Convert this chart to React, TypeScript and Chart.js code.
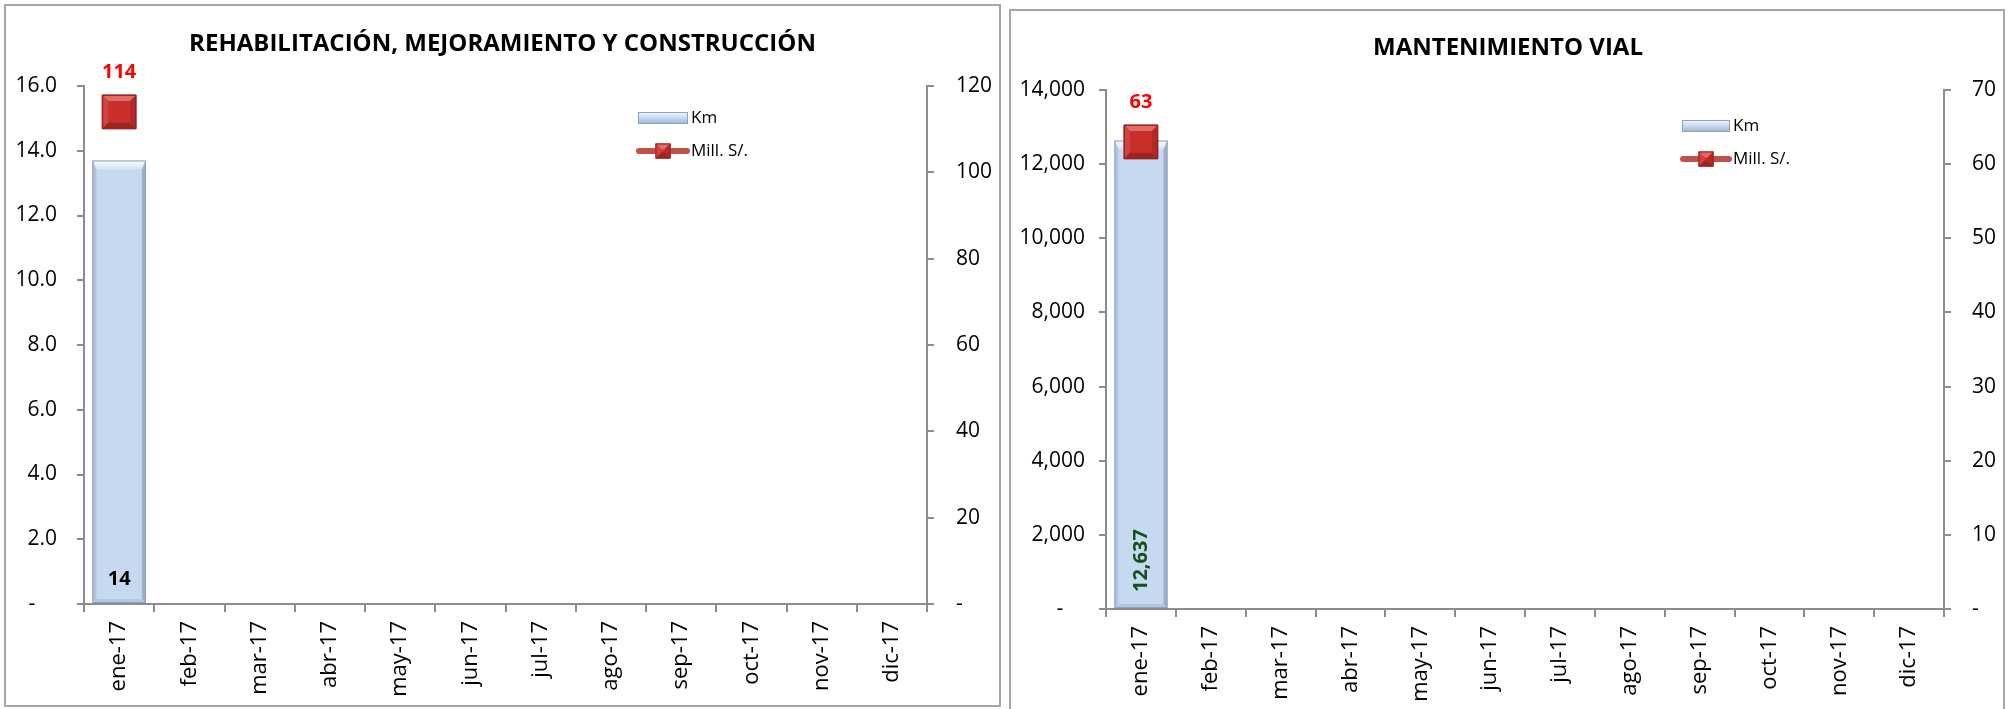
import React, { useEffect, useRef } from 'react';
import { Chart, registerables } from 'chart.js';

Chart.register(...registerables);

// ---------- data ----------
const months = ['ene-17', 'feb-17', 'mar-17', 'abr-17', 'may-17', 'jun-17', 'jul-17', 'ago-17', 'sep-17', 'oct-17', 'nov-17', 'dic-17'];

const rehabKm: (number | null)[] = [13.7, null, null, null, null, null, null, null, null, null, null, null];
const rehabMill: (number | null)[] = [114, null, null, null, null, null, null, null, null, null, null, null];

const mantKm: (number | null)[] = [12637, null, null, null, null, null, null, null, null, null, null, null];
const mantMill: (number | null)[] = [63, null, null, null, null, null, null, null, null, null, null, null];

const rehabKmAxis = [0, 16, 2]; // min, max, step
const rehabMillAxis = [0, 120, 20];
const mantKmAxis = [0, 14000, 2000];
const mantMillAxis = [0, 70, 10];

const legendLabels = ['Km', 'Mill. S/.'];
const titles = ['REHABILITACIÓN, MEJORAMIENTO Y CONSTRUCCIÓN', 'MANTENIMIENTO VIAL'];

// ---------- styling ----------
const FONT = '"Open Sans", "Liberation Sans", sans-serif';
const AXIS = '#8c8c8c';
const BAR_FILL = '#c6d9f1';
const BAR_EDGE = '#8ea2bd';
const MARK_FILL = '#c9302c';
const MARK_EDGE = '#93221f';

type Spec = {
  title: string;
  titleY: number;
  km: (number | null)[];
  mill: (number | null)[];
  kmAxis: number[];
  millAxis: number[];
  kmFmt: (v: number) => string;
  zeroLeft: string;
  width: number;
  height: number;
  top: number;
  left: number;
  right: number;
  bottom: number;
  yPad: number;
  y1Pad: number;
  kmLabelColor: string;
  kmLabelRotated: boolean;
  kmLabelOffset: number;
  legend: { swX: number; swW: number; kmY: number; millY: number; textX: number };
};

function poly(c: CanvasRenderingContext2D, pts: number[][], fill: string | CanvasGradient) {
  c.beginPath();
  c.moveTo(pts[0][0], pts[0][1]);
  for (let i = 1; i < pts.length; i++) c.lineTo(pts[i][0], pts[i][1]);
  c.closePath();
  c.fillStyle = fill;
  c.fill();
}

function drawBarBevel(c: CanvasRenderingContext2D, l: number, r: number, t: number, b: number) {
  const bt = 9;
  const bs = 4;
  const g = c.createLinearGradient(0, t, 0, t + bt);
  g.addColorStop(0, '#f6f9fd');
  g.addColorStop(1, '#d6e4f5');
  poly(c, [[l, t], [r, t], [r - bs, t + bt], [l + bs, t + bt]], g);
  poly(c, [[l, t], [l + bs, t + bt], [l + bs, b - bs], [l, b]], '#b4c4da');
  poly(c, [[r, t], [r, b], [r - bs, b - bs], [r - bs, t + bt]], '#a0afc4');
  poly(c, [[l, b], [l + bs, b - bs], [r - bs, b - bs], [r, b]], '#b5c7de');
  c.strokeStyle = BAR_EDGE;
  c.lineWidth = 1;
  c.strokeRect(l + 0.5, t + 0.5, r - l - 1, b - t - 1);
}

function drawMarkerBevel(c: CanvasRenderingContext2D, x: number, y: number, half: number) {
  const l = x - half, r = x + half, t = y - half, b = y + half;
  const bv = 6;
  poly(c, [[l, t], [r, t], [r - bv, t + bv], [l + bv, t + bv]], '#e36a66');
  poly(c, [[l, t], [l + bv, t + bv], [l + bv, b - bv], [l, b]], '#d2433f');
  poly(c, [[r, t], [r, b], [r - bv, b - bv], [r - bv, t + bv]], '#b22a26');
  poly(c, [[l, b], [l + bv, b - bv], [r - bv, b - bv], [r, b]], '#9e2421');
  c.strokeStyle = MARK_EDGE;
  c.lineWidth = 1;
  c.strokeRect(l + 0.5, t + 0.5, r - l - 1, b - t - 1);
}

function makeChart(canvas: HTMLCanvasElement, spec: Spec) {
  const decoPlugin = {
    id: 'deco',
    afterDatasetDraw(chart: any, args: any) {
      const c: CanvasRenderingContext2D = chart.ctx;
      const meta = args.meta;
      c.save();
      if (meta.type === 'bar') {
        meta.data.forEach((el: any, i: number) => {
          if (spec.km[i] == null) return;
          const p = el.getProps(['x', 'y', 'base', 'width'], true);
          drawBarBevel(c, p.x - p.width / 2, p.x + p.width / 2, p.y, p.base);
        });
      } else if (meta.type === 'line') {
        meta.data.forEach((el: any, i: number) => {
          if (spec.mill[i] == null) return;
          const half = Math.SQRT1_2 * el.options.radius;
          drawMarkerBevel(c, el.x, el.y, half);
        });
      }
      c.restore();
    },
    afterDatasetsDraw(chart: any) {
      const c: CanvasRenderingContext2D = chart.ctx;
      c.save();
      // line labels
      const lineMeta = chart.getDatasetMeta(0);
      lineMeta.data.forEach((el: any, i: number) => {
        const v = spec.mill[i];
        if (v == null) return;
        c.font = `bold 20px ${FONT}`;
        c.fillStyle = '#ff0000';
        c.textAlign = 'center';
        c.textBaseline = 'middle';
        c.fillText(String(Math.round(v)), el.x, el.y - 40);
      });
      // bar labels
      const barMeta = chart.getDatasetMeta(1);
      barMeta.data.forEach((el: any, i: number) => {
        const v = spec.km[i];
        if (v == null) return;
        const p = el.getProps(['x', 'base'], true);
        c.font = `bold 20px ${FONT}`;
        c.fillStyle = spec.kmLabelColor;
        const txt = Math.round(v).toLocaleString('en-US');
        if (spec.kmLabelRotated) {
          c.save();
          c.translate(p.x, p.base - spec.kmLabelOffset);
          c.rotate(-Math.PI / 2);
          c.textAlign = 'left';
          c.textBaseline = 'middle';
          c.fillText(txt, 0, 0);
          c.restore();
        } else {
          c.textAlign = 'center';
          c.textBaseline = 'middle';
          c.fillText(txt, p.x, p.base - spec.kmLabelOffset);
        }
      });
      c.restore();
    },
    afterDraw(chart: any) {
      const c: CanvasRenderingContext2D = chart.ctx;
      c.save();
      // title
      c.font = `bold 24px ${FONT}`;
      c.fillStyle = '#000';
      c.textAlign = 'center';
      c.textBaseline = 'middle';
      c.fillText(spec.title, chart.width / 2, spec.titleY);
      // legend
      const L = spec.legend;
      const sh = 12;
      const g = c.createLinearGradient(0, L.kmY - sh / 2, 0, L.kmY + sh / 2);
      g.addColorStop(0, '#f3f7fc');
      g.addColorStop(0.5, '#c6d9f1');
      g.addColorStop(1, '#9fb2cc');
      c.fillStyle = g;
      c.fillRect(L.swX, L.kmY - sh / 2, L.swW, sh);
      c.strokeStyle = '#8ea2bd';
      c.lineWidth = 1;
      c.strokeRect(L.swX + 0.5, L.kmY - sh / 2 + 0.5, L.swW - 1, sh - 1);
      // line swatch
      c.strokeStyle = '#c0504d';
      c.lineWidth = 6;
      c.lineCap = 'round';
      c.beginPath();
      c.moveTo(L.swX + 1, L.millY);
      c.lineTo(L.swX + L.swW - 1, L.millY);
      c.stroke();
      const mx = L.swX + L.swW / 2;
      c.fillStyle = MARK_FILL;
      c.fillRect(mx - 7.5, L.millY - 7.5, 15, 15);
      drawMarkerBevel(c, mx, L.millY, 7.5);
      c.font = `17px ${FONT}`;
      c.fillStyle = '#000';
      c.textAlign = 'left';
      c.textBaseline = 'middle';
      c.fillText(legendLabels[0], L.textX, L.kmY);
      c.fillText(legendLabels[1], L.textX, L.millY);
      c.restore();
    },
  };

  return new Chart(canvas, {
    type: 'bar',
    data: {
      labels: months,
      datasets: [
        {
          type: 'line',
          label: legendLabels[1],
          data: spec.mill,
          yAxisID: 'y1',
          order: 0,
          showLine: false,
          pointStyle: 'rect',
          pointRadius: 24,
          pointHoverRadius: 24,
          pointBackgroundColor: MARK_FILL,
          pointBorderColor: MARK_EDGE,
          pointBorderWidth: 1,
          borderColor: '#c0504d',
          backgroundColor: MARK_FILL,
        } as any,
        {
          type: 'bar',
          label: legendLabels[0],
          data: spec.km,
          yAxisID: 'y',
          order: 1,
          backgroundColor: BAR_FILL,
          borderColor: BAR_EDGE,
          borderWidth: 0,
          barPercentage: 0.76,
          categoryPercentage: 1,
        } as any,
      ],
    },
    options: {
      responsive: false,
      animation: false,
      devicePixelRatio: 1,
      events: [],
      layout: { padding: { top: spec.top, left: 0, right: 0, bottom: 0 } },
      plugins: {
        legend: { display: false },
        title: { display: false },
        tooltip: { enabled: false },
      },
      scales: {
        x: {
          type: 'category',
          offset: true,
          grid: {
            display: true,
            drawOnChartArea: false,
            drawTicks: true,
            offset: true,
            tickLength: 8,
            color: AXIS,
            lineWidth: 2,
          },
          border: { display: true, color: AXIS, width: 2 },
          ticks: {
            color: '#000',
            font: { family: FONT, size: 22 },
            minRotation: 90,
            maxRotation: 90,
            padding: 9,
            autoSkip: false,
          },
          afterFit: (s: any) => {
            s.height = spec.bottom;
          },
        },
        y: {
          type: 'linear',
          position: 'left',
          min: spec.kmAxis[0],
          max: spec.kmAxis[1],
          grid: { display: true, drawOnChartArea: false, drawTicks: true, tickLength: 7, color: AXIS, lineWidth: 2 },
          border: { display: true, color: AXIS, width: 2 },
          ticks: {
            stepSize: spec.kmAxis[2],
            color: '#000',
            font: { family: FONT, size: 21 },
            padding: spec.yPad,
            callback: (v: any) => (Number(v) === 0 ? spec.zeroLeft : spec.kmFmt(Number(v))),
          },
          afterFit: (s: any) => {
            s.width = spec.left;
          },
        },
        y1: {
          type: 'linear',
          position: 'right',
          min: spec.millAxis[0],
          max: spec.millAxis[1],
          grid: { display: true, drawOnChartArea: false, drawTicks: true, tickLength: 7, color: AXIS, lineWidth: 2 },
          border: { display: true, color: AXIS, width: 2 },
          ticks: {
            stepSize: spec.millAxis[2],
            color: '#000',
            font: { family: FONT, size: 21 },
            padding: spec.y1Pad,
            callback: (v: any) => (Number(v) === 0 ? '-' : String(v)),
          },
          afterFit: (s: any) => {
            s.width = spec.right;
          },
        },
      },
    } as any,
    plugins: [decoPlugin],
  });
}

const leftSpec: Spec = {
  title: titles[0],
  titleY: 44,
  km: rehabKm,
  mill: rehabMill,
  kmAxis: rehabKmAxis,
  millAxis: rehabMillAxis,
  kmFmt: (v) => v.toFixed(1),
  zeroLeft: '-    ',
  width: 1005,
  height: 709,
  top: 86,
  left: 84,
  right: 78,
  bottom: 105,
  yPad: 20,
  y1Pad: 22,
  kmLabelColor: '#000000',
  kmLabelRotated: false,
  kmLabelOffset: 24,
  legend: { swX: 638, swW: 50, kmY: 118, millY: 151, textX: 691 },
};

const rightSpec: Spec = {
  title: titles[1],
  titleY: 48,
  km: mantKm,
  mill: mantMill,
  kmAxis: mantKmAxis,
  millAxis: mantMillAxis,
  kmFmt: (v) => v.toLocaleString('en-US'),
  zeroLeft: '-    ',
  width: 1006,
  height: 709,
  top: 90,
  left: 101,
  right: 67,
  bottom: 100,
  yPad: 14,
  y1Pad: 21,
  kmLabelColor: '#14501a',
  kmLabelRotated: true,
  kmLabelOffset: 16,
  legend: { swX: 677, swW: 48, kmY: 126, millY: 159, textX: 728 },
};

function Panel({ spec, x }: { spec: Spec; x: number }) {
  const ref = useRef<HTMLCanvasElement | null>(null);
  useEffect(() => {
    if (!ref.current) return;
    const ch = makeChart(ref.current, spec);
    return () => ch.destroy();
  }, [spec]);
  return (
    <canvas
      ref={ref}
      width={spec.width}
      height={spec.height}
      style={{ position: 'absolute', left: x, top: 0, width: spec.width, height: spec.height, display: 'block' }}
    />
  );
}

export default function App() {
  return (
    <div
      style={{
        position: 'absolute',
        left: 0,
        top: 0,
        width: 2011,
        height: 709,
        overflow: 'hidden',
        background: '#ffffff',
      }}
    >
      <div
        style={{
          position: 'absolute',
          left: 4,
          top: 4,
          width: 997,
          height: 703,
          boxSizing: 'border-box',
          border: '2px solid #a6a6a6',
        }}
      />
      <div
        style={{
          position: 'absolute',
          left: 1009,
          top: 9,
          width: 996,
          height: 710,
          boxSizing: 'border-box',
          border: '2px solid #a6a6a6',
        }}
      />
      <Panel spec={leftSpec} x={0} />
      <Panel spec={rightSpec} x={1005} />
    </div>
  );
}
